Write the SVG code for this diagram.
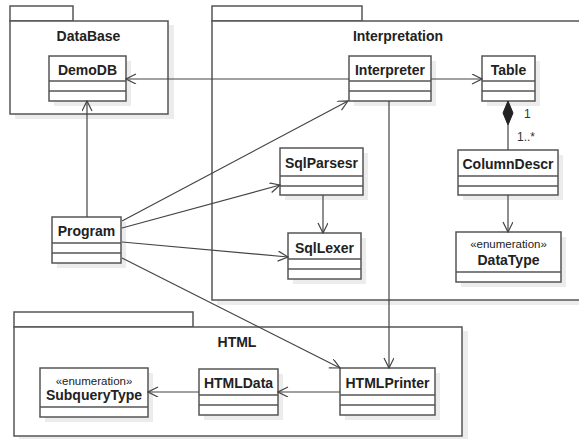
<svg xmlns="http://www.w3.org/2000/svg" width="579" height="439" viewBox="0 0 579 439">
<defs>
<marker id="open" markerWidth="12" markerHeight="12" refX="11" refY="5" orient="auto" markerUnits="userSpaceOnUse">
<path d="M1,0 L11,5 L1,10" fill="none" stroke="#444" stroke-width="1.2"/>
</marker>
</defs>
<style>
.pkg{fill:#fff;stroke:#555;stroke-width:1.5}
.box{fill:#fff;stroke:#555;stroke-width:1.5}
.sh{fill:#ececec;stroke:none}
.sep{stroke:#555;stroke-width:1.5}
.nm{font-family:"Liberation Sans",Arial,sans-serif;font-size:14px;font-weight:bold;fill:#222;text-anchor:middle}
.st{font-family:"Liberation Sans",Arial,sans-serif;font-size:11.5px;fill:#222;text-anchor:middle}
.ml{font-family:"Liberation Sans",Arial,sans-serif;font-size:12px;fill:#333}
.con{fill:none;stroke:#444;stroke-width:1.2}
</style>
<rect width="579" height="439" fill="#fff"/>

<g id="pkg-DataBase">
<rect class="sh" x="15" y="25" width="159" height="94"/>
<rect class="pkg" x="10" y="6" width="63" height="15"/>
<rect class="pkg" x="10" y="21" width="158" height="93"/>
<text class="nm" x="88.5" y="41">DataBase</text>
</g>
<g id="pkg-Interpretation">
<rect class="sh" x="217" y="25" width="370" height="280"/>
<rect class="pkg" x="212" y="6" width="150" height="15"/>
<rect class="pkg" x="212" y="21" width="380" height="279"/>
<text class="nm" x="398" y="41">Interpretation</text>
</g>
<g id="pkg-HTML">
<rect class="sh" x="19" y="331" width="449" height="110"/>
<rect class="pkg" x="14" y="312" width="179" height="15"/>
<rect class="pkg" x="14" y="327" width="448" height="109"/>
<text class="nm" x="237" y="347">HTML</text>
</g>

<g id="DemoDB">
<rect class="sh" x="54" y="61" width="77" height="45"/>
<rect class="box" x="49" y="56" width="77" height="45"/>
<line class="sep" x1="49" y1="81" x2="126" y2="81"/><line class="sep" x1="49" y1="91" x2="126" y2="91"/>
<text class="nm" x="87.5" y="75">DemoDB</text>
</g>
<g id="Interpreter">
<rect class="sh" x="354" y="61" width="82" height="45"/>
<rect class="box" x="349" y="56" width="82" height="45"/>
<line class="sep" x1="349" y1="81" x2="431" y2="81"/><line class="sep" x1="349" y1="91" x2="431" y2="91"/>
<text class="nm" x="390" y="75">Interpreter</text>
</g>
<g id="Table">
<rect class="sh" x="487" y="61" width="53" height="45"/>
<rect class="box" x="482" y="56" width="53" height="45"/>
<line class="sep" x1="482" y1="81" x2="535" y2="81"/><line class="sep" x1="482" y1="91" x2="535" y2="91"/>
<text class="nm" x="508.5" y="75">Table</text>
</g>
<g id="ColumnDescr">
<rect class="sh" x="463" y="155" width="100" height="45"/>
<rect class="box" x="458" y="150" width="100" height="45"/>
<line class="sep" x1="458" y1="176" x2="558" y2="176"/><line class="sep" x1="458" y1="186" x2="558" y2="186"/>
<text class="nm" x="508" y="169">ColumnDescr</text>
</g>
<g id="DataType">
<rect class="sh" x="461" y="237" width="105" height="50"/>
<rect class="box" x="456" y="232" width="105" height="50"/>
<line class="sep" x1="456" y1="272" x2="561" y2="272"/>
<text class="st" x="508.5" y="248">«enumeration»</text>
<text class="nm" x="508.5" y="265">DataType</text>
</g>
<g id="SqlParsesr">
<rect class="sh" x="285" y="153" width="83" height="47"/>
<rect class="box" x="280" y="148" width="83" height="47"/>
<line class="sep" x1="280" y1="176" x2="363" y2="176"/><line class="sep" x1="280" y1="186" x2="363" y2="186"/>
<text class="nm" x="321.5" y="168">SqlParsesr</text>
</g>
<g id="SqlLexer">
<rect class="sh" x="293" y="238" width="73" height="46"/>
<rect class="box" x="288" y="233" width="73" height="46"/>
<line class="sep" x1="288" y1="259" x2="361" y2="259"/><line class="sep" x1="288" y1="269" x2="361" y2="269"/>
<text class="nm" x="324.5" y="253">SqlLexer</text>
</g>
<g id="Program">
<rect class="sh" x="57" y="222" width="69" height="46"/>
<rect class="box" x="52" y="217" width="69" height="46"/>
<line class="sep" x1="52" y1="243" x2="121" y2="243"/><line class="sep" x1="52" y1="253" x2="121" y2="253"/>
<text class="nm" x="86.5" y="236">Program</text>
</g>
<g id="HTMLPrinter">
<rect class="sh" x="345" y="373" width="95" height="47"/>
<rect class="box" x="340" y="368" width="95" height="47"/>
<line class="sep" x1="340" y1="395" x2="435" y2="395"/><line class="sep" x1="340" y1="405" x2="435" y2="405"/>
<text class="nm" x="387.5" y="388">HTMLPrinter</text>
</g>
<g id="HTMLData">
<rect class="sh" x="204" y="374" width="79" height="46"/>
<rect class="box" x="199" y="369" width="79" height="46"/>
<line class="sep" x1="199" y1="395" x2="278" y2="395"/><line class="sep" x1="199" y1="405" x2="278" y2="405"/>
<text class="nm" x="238.5" y="388">HTMLData</text>
</g>
<g id="SubqueryType">
<rect class="sh" x="45" y="373" width="108" height="49"/>
<rect class="box" x="40" y="368" width="108" height="49"/>
<line class="sep" x1="40" y1="407" x2="148" y2="407"/>
<text class="st" x="94" y="385">«enumeration»</text>
<text class="nm" x="94" y="400">SubqueryType</text>
</g>

<g id="connectors">
<line class="con" x1="349" y1="79" x2="126" y2="79" marker-end="url(#open)"/>
<line class="con" x1="431" y1="79" x2="482" y2="79" marker-end="url(#open)"/>
<line class="con" x1="87" y1="217" x2="87" y2="101" marker-end="url(#open)"/>
<line class="con" x1="122" y1="221" x2="348" y2="101" marker-end="url(#open)"/>
<line class="con" x1="122" y1="228" x2="280" y2="185" marker-end="url(#open)"/>
<line class="con" x1="122" y1="242" x2="288" y2="257" marker-end="url(#open)"/>
<line class="con" x1="122" y1="258" x2="340" y2="368" marker-end="url(#open)"/>
<line class="con" x1="323" y1="195" x2="323" y2="233" marker-end="url(#open)"/>
<line class="con" x1="389" y1="101" x2="389" y2="368" marker-end="url(#open)"/>
<line class="con" x1="508" y1="125" x2="508" y2="150"/>
<path d="M508,101 L513,113 L508,125 L503,113 Z" fill="#222" stroke="#222" stroke-width="1"/>
<text class="ml" x="524" y="118">1</text>
<text class="ml" x="517" y="141">1..*</text>
<line class="con" x1="508" y1="195" x2="508" y2="232" marker-end="url(#open)"/>
<line class="con" x1="340" y1="392" x2="278" y2="392" marker-end="url(#open)"/>
<line class="con" x1="199" y1="392" x2="148" y2="392" marker-end="url(#open)"/>
</g>
</svg>
